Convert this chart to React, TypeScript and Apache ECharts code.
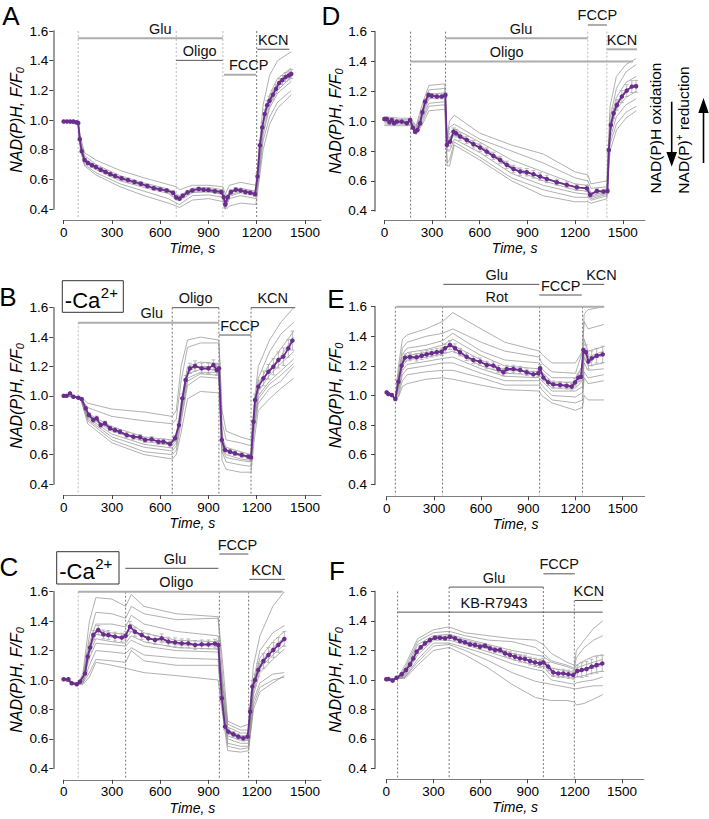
import React, { useEffect, useRef } from "react";
import * as echarts from "echarts";

const FONT = "'Liberation Sans', Arial, Helvetica, sans-serif";
const PURPLE = "#6a2c8f";

const X_TICKS = [0, 300, 600, 900, 1200, 1500];

// ---------------- Panel A ----------------
const timesA = [0, 90, 105, 130, 200, 350, 500, 650, 700, 720, 800, 900, 990, 1005, 1030, 1100, 1195, 1210, 1240, 1280, 1330, 1415];
const tracesA = [
  [0.99, 0.99, 0.88, 0.78, 0.73, 0.66, 0.61, 0.565, 0.55, 0.53, 0.56, 0.56, 0.55, 0.5, 0.56, 0.58, 0.56, 0.75, 1.1, 1.3, 1.4, 1.46],
  [0.99, 0.98, 0.86, 0.76, 0.7, 0.625, 0.575, 0.535, 0.5, 0.49, 0.54, 0.545, 0.53, 0.45, 0.52, 0.54, 0.52, 0.7, 1.0, 1.17, 1.28, 1.35],
  [0.99, 0.98, 0.84, 0.74, 0.69, 0.61, 0.565, 0.525, 0.485, 0.475, 0.53, 0.535, 0.52, 0.44, 0.51, 0.53, 0.51, 0.66, 0.97, 1.14, 1.25, 1.33],
  [0.99, 0.98, 0.83, 0.73, 0.675, 0.6, 0.555, 0.515, 0.47, 0.465, 0.52, 0.52, 0.505, 0.42, 0.495, 0.52, 0.5, 0.63, 0.93, 1.1, 1.2, 1.29],
  [0.99, 0.98, 0.82, 0.72, 0.665, 0.59, 0.545, 0.505, 0.465, 0.455, 0.51, 0.515, 0.5, 0.41, 0.485, 0.51, 0.49, 0.6, 0.9, 1.08, 1.18, 1.26],
  [0.99, 0.97, 0.8, 0.7, 0.645, 0.57, 0.52, 0.47, 0.44, 0.43, 0.49, 0.495, 0.48, 0.4, 0.47, 0.49, 0.47, 0.58, 0.86, 1.02, 1.12, 1.2],
  [0.99, 0.97, 0.79, 0.69, 0.63, 0.55, 0.49, 0.44, 0.42, 0.41, 0.46, 0.47, 0.45, 0.39, 0.42, 0.44, 0.43, 0.55, 0.8, 0.97, 1.08, 1.17],
];
// [time, mean, sem]
const meanA = [
  [0, 0.99, 0.005], [20, 0.99, 0.005], [40, 0.99, 0.005], [60, 0.99, 0.005], [80, 0.985, 0.005], [90, 0.98, 0.005],
  [100, 0.87, 0.01], [112, 0.79, 0.012], [130, 0.73, 0.012], [150, 0.71, 0.012], [175, 0.695, 0.012], [200, 0.683, 0.012],
  [230, 0.665, 0.012], [260, 0.65, 0.012], [290, 0.635, 0.012], [320, 0.622, 0.012], [360, 0.607, 0.012], [400, 0.595, 0.012],
  [440, 0.582, 0.012], [480, 0.57, 0.012], [520, 0.555, 0.012], [560, 0.54, 0.012], [600, 0.532, 0.012], [640, 0.525, 0.012],
  [680, 0.51, 0.012], [700, 0.478, 0.012], [720, 0.47, 0.012], [740, 0.49, 0.012], [770, 0.512, 0.012], [800, 0.525, 0.012],
  [840, 0.535, 0.012], [870, 0.53, 0.012], [900, 0.528, 0.012], [940, 0.52, 0.012], [980, 0.515, 0.012], [995, 0.48, 0.015],
  [1005, 0.43, 0.015], [1020, 0.48, 0.015], [1040, 0.515, 0.015], [1070, 0.53, 0.015], [1100, 0.525, 0.015], [1130, 0.515, 0.015],
  [1160, 0.51, 0.015], [1190, 0.5, 0.015], [1205, 0.62, 0.02], [1220, 0.83, 0.03], [1235, 0.95, 0.03], [1250, 1.04, 0.03],
  [1265, 1.1, 0.03], [1280, 1.13, 0.03], [1300, 1.17, 0.03], [1320, 1.21, 0.03], [1340, 1.25, 0.03], [1360, 1.27, 0.03],
  [1380, 1.29, 0.03], [1400, 1.3, 0.03], [1415, 1.31, 0.03],
];
// [start, end, level, label position]
const barsA = [[90, 990, 1.551, 600], [700, 988, 1.402, 845], [997, 1196, 1.305, 1150], [1204, 1403, 1.477, 1303]];
const barLabelsA = ["Glu", "Oligo", "FCCP", "KCN"];
const vlinesA = [[90, 1.6], [700, 1.6], [990, 1.6], [1200, 1.6]];

// ---------------- Panel D ----------------
const timesD = [0, 100, 165, 200, 240, 280, 380, 395, 410, 440, 600, 800, 1000, 1200, 1280, 1300, 1400, 1420, 1460, 1520, 1585];
const tracesD = [
  [1.03, 1.02, 1.02, 0.97, 1.12, 1.24, 1.25, 0.9, 1.0, 1.04, 0.92, 0.84, 0.78, 0.66, 0.64, 0.58, 0.6, 1.1, 1.3, 1.38, 1.42],
  [1.02, 1.01, 1.01, 0.96, 1.08, 1.21, 1.22, 0.88, 0.96, 0.98, 0.88, 0.8, 0.72, 0.62, 0.6, 0.55, 0.56, 1.02, 1.22, 1.33, 1.38],
  [1.01, 1.0, 1.0, 0.95, 1.06, 1.18, 1.19, 0.86, 0.92, 0.95, 0.86, 0.74, 0.66, 0.58, 0.57, 0.52, 0.54, 0.98, 1.16, 1.26, 1.3],
  [1.0, 1.0, 1.0, 0.94, 1.05, 1.17, 1.17, 0.84, 0.89, 0.93, 0.84, 0.7, 0.62, 0.56, 0.55, 0.5, 0.53, 0.95, 1.12, 1.21, 1.25],
  [1.0, 0.99, 0.99, 0.93, 1.04, 1.15, 1.16, 0.82, 0.86, 0.91, 0.82, 0.68, 0.6, 0.54, 0.53, 0.49, 0.52, 0.92, 1.08, 1.16, 1.2],
  [0.99, 0.99, 0.99, 0.93, 1.02, 1.12, 1.13, 0.8, 0.8, 0.88, 0.79, 0.65, 0.57, 0.52, 0.51, 0.48, 0.51, 0.88, 1.03, 1.11, 1.15],
  [0.98, 0.98, 0.98, 0.92, 1.0, 1.1, 1.11, 0.72, 0.74, 0.86, 0.76, 0.62, 0.54, 0.49, 0.49, 0.47, 0.5, 0.85, 0.98, 1.06, 1.1],
  [0.97, 0.97, 0.97, 0.91, 0.98, 1.07, 1.08, 0.7, 0.7, 0.84, 0.74, 0.6, 0.5, 0.46, 0.46, 0.45, 0.48, 0.8, 0.94, 1.02, 1.07],
];
const meanD = [
  [0, 1.015, 0.01], [15, 1.015, 0.01], [32, 0.993, 0.01], [46, 1.008, 0.01], [61, 0.986, 0.01], [78, 0.997, 0.01],
  [109, 0.997, 0.01], [141, 0.986, 0.01], [162, 1.008, 0.01], [179, 0.957, 0.01], [193, 0.93, 0.012], [208, 0.941, 0.012],
  [225, 0.986, 0.015], [239, 1.06, 0.015], [256, 1.131, 0.015], [277, 1.176, 0.015], [298, 1.171, 0.015], [330, 1.165, 0.015],
  [361, 1.165, 0.015], [384, 1.176, 0.015], [393, 0.841, 0.03], [414, 0.863, 0.03], [435, 0.93, 0.025], [451, 0.919, 0.025],
  [476, 0.897, 0.025], [518, 0.874, 0.025], [560, 0.845, 0.025], [602, 0.823, 0.025], [644, 0.796, 0.025], [686, 0.767, 0.025],
  [728, 0.74, 0.025], [770, 0.707, 0.025], [812, 0.68, 0.025], [854, 0.662, 0.025], [896, 0.658, 0.025], [938, 0.644, 0.025],
  [980, 0.629, 0.025], [1022, 0.613, 0.025], [1085, 0.591, 0.02], [1148, 0.573, 0.02], [1211, 0.557, 0.02], [1274, 0.55, 0.02],
  [1295, 0.506, 0.015], [1337, 0.532, 0.015], [1379, 0.528, 0.015], [1404, 0.532, 0.015], [1412, 0.807, 0.03], [1425, 0.975, 0.03],
  [1442, 1.053, 0.035], [1463, 1.109, 0.035], [1494, 1.165, 0.04], [1525, 1.205, 0.04], [1557, 1.232, 0.04], [1584, 1.234, 0.04],
];
const barsD = [[385, 1280, 1.556, 860], [165, 1565, 1.4, 770], [1280, 1400, 1.645, 1340], [1400, 1590, 1.482, 1495]];
const barLabelsD = ["Glu", "Oligo", "FCCP", "KCN"];
const vlinesD = [[165, 1.6], [385, 1.6], [1280, 1.6], [1400, 1.6]];

// ---------------- Panel B ----------------
const timesB = [0, 90, 110, 150, 300, 500, 675, 700, 730, 770, 850, 965, 985, 1010, 1100, 1165, 1185, 1210, 1280, 1350, 1430];
const tracesB = [
  [1.0, 0.99, 0.99, 0.95, 0.91, 0.89, 0.86, 0.9, 1.2, 1.38, 1.4, 1.38, 0.9, 0.76, 0.72, 0.7, 0.95, 1.2, 1.38, 1.5, 1.6],
  [1.0, 0.99, 0.98, 0.92, 0.86, 0.83, 0.81, 0.84, 1.1, 1.33, 1.36, 1.36, 0.82, 0.7, 0.68, 0.66, 0.9, 1.12, 1.3, 1.42, 1.5],
  [1.0, 0.99, 0.975, 0.88, 0.79, 0.72, 0.7, 0.73, 0.95, 1.2, 1.23, 1.22, 0.72, 0.65, 0.62, 0.6, 0.9, 1.08, 1.22, 1.32, 1.44],
  [1.0, 0.99, 0.975, 0.87, 0.77, 0.705, 0.68, 0.72, 0.92, 1.17, 1.2, 1.2, 0.7, 0.63, 0.6, 0.59, 0.88, 1.06, 1.18, 1.27, 1.4],
  [1.0, 0.99, 0.97, 0.86, 0.76, 0.69, 0.665, 0.7, 0.9, 1.15, 1.18, 1.18, 0.68, 0.62, 0.59, 0.58, 0.85, 1.03, 1.14, 1.22, 1.3],
  [1.0, 0.99, 0.97, 0.85, 0.74, 0.67, 0.645, 0.68, 0.88, 1.12, 1.16, 1.16, 0.66, 0.6, 0.57, 0.56, 0.82, 1.0, 1.1, 1.17, 1.25],
  [1.0, 0.99, 0.97, 0.84, 0.72, 0.65, 0.625, 0.66, 0.85, 1.1, 1.15, 1.14, 0.64, 0.58, 0.56, 0.55, 0.8, 0.98, 1.08, 1.14, 1.22],
  [1.0, 0.99, 0.965, 0.83, 0.7, 0.62, 0.6, 0.63, 0.82, 1.07, 1.13, 1.12, 0.62, 0.55, 0.53, 0.52, 0.77, 0.95, 1.05, 1.1, 1.2],
  [1.0, 0.99, 0.96, 0.81, 0.68, 0.6, 0.57, 0.6, 0.75, 0.98, 1.03, 1.02, 0.56, 0.5, 0.48, 0.48, 0.7, 0.9, 0.98, 1.05, 1.12],
];
const meanB = [
  [0, 1.0, 0.005], [18, 1.0, 0.005], [39, 1.017, 0.005], [60, 0.994, 0.005], [91, 0.987, 0.005], [112, 0.978, 0.008],
  [137, 0.915, 0.012], [157, 0.87, 0.015], [184, 0.836, 0.015], [205, 0.847, 0.015], [230, 0.801, 0.015], [257, 0.813, 0.015],
  [288, 0.779, 0.015], [319, 0.767, 0.015], [350, 0.756, 0.015], [392, 0.733, 0.018], [433, 0.722, 0.018], [475, 0.718, 0.018],
  [506, 0.7, 0.018], [547, 0.704, 0.018], [589, 0.688, 0.018], [620, 0.688, 0.018], [661, 0.672, 0.02], [692, 0.711, 0.02],
  [717, 0.801, 0.025], [738, 0.983, 0.03], [758, 1.108, 0.03], [785, 1.187, 0.035], [817, 1.203, 0.035], [858, 1.187, 0.035],
  [900, 1.187, 0.035], [931, 1.21, 0.035], [951, 1.176, 0.035], [966, 1.187, 0.035], [983, 0.7, 0.02], [1003, 0.632, 0.015],
  [1034, 0.62, 0.015], [1065, 0.609, 0.015], [1107, 0.597, 0.015], [1148, 0.586, 0.015], [1165, 0.581, 0.015], [1180, 0.824, 0.03],
  [1190, 0.972, 0.04], [1210, 1.062, 0.045], [1242, 1.119, 0.05], [1273, 1.164, 0.05], [1304, 1.198, 0.055], [1335, 1.244, 0.055],
  [1366, 1.267, 0.06], [1397, 1.323, 0.06], [1422, 1.376, 0.065],
];
const barsB = [[90, 965, 1.498, 547], [675, 965, 1.6, 820], [965, 1165, 1.414, 1096], [1165, 1440, 1.6, 1300]];
const barLabelsB = ["Glu", "Oligo", "FCCP", "KCN"];
const vlinesB = [[90, 1.5], [675, 1.6], [965, 1.6], [1165, 1.6]];

// ---------------- Panel E ----------------
const timesE = [0, 55, 75, 100, 130, 250, 355, 420, 600, 750, 970, 985, 1050, 1200, 1245, 1255, 1280, 1380];
const tracesE = [
  [1.02, 0.98, 1.2, 1.38, 1.41, 1.45, 1.5, 1.56, 1.45, 1.36, 1.3, 1.28, 1.22, 1.22, 1.3, 1.55, 1.58, 1.6],
  [1.02, 0.98, 1.15, 1.32, 1.36, 1.4, 1.42, 1.45, 1.36, 1.3, 1.26, 1.22, 1.16, 1.15, 1.3, 1.5, 1.45, 1.48],
  [1.02, 0.98, 1.13, 1.28, 1.32, 1.34, 1.37, 1.42, 1.3, 1.24, 1.22, 1.18, 1.12, 1.12, 1.2, 1.38, 1.3, 1.33],
  [1.02, 0.98, 1.1, 1.25, 1.29, 1.31, 1.34, 1.38, 1.27, 1.2, 1.18, 1.16, 1.09, 1.09, 1.15, 1.32, 1.26, 1.3],
  [1.02, 0.98, 1.08, 1.23, 1.27, 1.29, 1.31, 1.34, 1.24, 1.17, 1.16, 1.14, 1.07, 1.07, 1.12, 1.3, 1.24, 1.27],
  [1.02, 0.98, 1.06, 1.2, 1.24, 1.26, 1.28, 1.3, 1.2, 1.15, 1.14, 1.12, 1.05, 1.05, 1.1, 1.26, 1.2, 1.22],
  [1.02, 0.98, 1.04, 1.17, 1.21, 1.23, 1.25, 1.26, 1.18, 1.13, 1.12, 1.1, 1.03, 1.03, 1.06, 1.22, 1.17, 1.18],
  [1.02, 0.98, 1.02, 1.14, 1.18, 1.2, 1.22, 1.22, 1.15, 1.1, 1.1, 1.07, 1.0, 0.99, 1.02, 1.16, 1.12, 1.14],
  [1.02, 0.98, 1.0, 1.1, 1.14, 1.16, 1.17, 1.17, 1.12, 1.07, 1.07, 1.04, 0.97, 0.95, 0.97, 1.12, 1.08, 1.1],
  [1.02, 0.98, 0.99, 1.06, 1.08, 1.11, 1.12, 1.11, 1.07, 1.04, 1.03, 1.0, 0.95, 0.9, 0.92, 1.0, 0.97, 0.97],
];
const meanE = [
  [0, 1.021, 0.005], [10, 1.01, 0.005], [32, 1.003, 0.005], [55, 0.976, 0.005], [74, 1.093, 0.02], [95, 1.202, 0.025],
  [116, 1.256, 0.025], [148, 1.26, 0.025], [190, 1.258, 0.025], [222, 1.269, 0.025], [254, 1.278, 0.025], [286, 1.285, 0.025],
  [318, 1.292, 0.025], [349, 1.296, 0.025], [371, 1.319, 0.028], [402, 1.341, 0.03], [434, 1.319, 0.03], [466, 1.292, 0.025],
  [508, 1.262, 0.025], [551, 1.24, 0.025], [593, 1.229, 0.025], [636, 1.206, 0.025], [678, 1.202, 0.025], [710, 1.179, 0.025],
  [742, 1.157, 0.025], [763, 1.179, 0.025], [805, 1.179, 0.025], [848, 1.172, 0.025], [890, 1.157, 0.022], [932, 1.143, 0.022],
  [964, 1.15, 0.022], [975, 1.184, 0.025], [996, 1.121, 0.022], [1027, 1.089, 0.022], [1059, 1.075, 0.022], [1102, 1.071, 0.022],
  [1144, 1.066, 0.022], [1176, 1.06, 0.022], [1197, 1.089, 0.025], [1218, 1.121, 0.025], [1235, 1.127, 0.03], [1250, 1.307, 0.04],
  [1267, 1.292, 0.05], [1282, 1.229, 0.05], [1303, 1.251, 0.05], [1335, 1.269, 0.05], [1373, 1.278, 0.055],
];
const barsE = [[360, 970, 1.751, 700], [60, 1383, 1.6, 700], [970, 1240, 1.679, 1106], [1244, 1383, 1.751, 1365]];
const barLabelsE = ["Glu", "Rot", "FCCP", "KCN"];
const vlinesE = [[55, 1.6], [355, 1.6], [972, 1.6], [1245, 1.6]];

// ---------------- Panel C ----------------
const timesC = [0, 90, 120, 160, 200, 300, 385, 420, 500, 700, 960, 990, 1020, 1100, 1150, 1180, 1220, 1300, 1372];
const tracesC = [
  [1.0, 0.97, 1.05, 1.4, 1.56, 1.55, 1.5, 1.58, 1.5, 1.45, 1.43, 1.1, 0.72, 0.68, 0.7, 1.1, 1.3, 1.5, 1.6],
  [1.0, 0.97, 1.03, 1.3, 1.46, 1.45, 1.42, 1.5, 1.45, 1.41, 1.42, 1.0, 0.7, 0.66, 0.66, 1.0, 1.2, 1.32, 1.37],
  [1.0, 0.97, 1.02, 1.25, 1.38, 1.38, 1.36, 1.44, 1.38, 1.33, 1.3, 0.95, 0.68, 0.64, 0.64, 0.98, 1.15, 1.26, 1.33],
  [1.0, 0.97, 1.01, 1.22, 1.34, 1.32, 1.31, 1.38, 1.32, 1.27, 1.26, 0.92, 0.66, 0.62, 0.62, 0.96, 1.12, 1.22, 1.29],
  [1.0, 0.97, 1.0, 1.2, 1.31, 1.29, 1.28, 1.33, 1.29, 1.24, 1.23, 0.9, 0.64, 0.6, 0.6, 0.95, 1.1, 1.2, 1.27],
  [1.0, 0.97, 0.99, 1.18, 1.28, 1.26, 1.25, 1.3, 1.26, 1.22, 1.21, 0.88, 0.62, 0.59, 0.59, 0.93, 1.08, 1.17, 1.24],
  [1.0, 0.97, 0.99, 1.15, 1.25, 1.24, 1.23, 1.27, 1.23, 1.2, 1.19, 0.86, 0.6, 0.57, 0.57, 0.9, 1.05, 1.14, 1.21],
  [1.0, 0.97, 0.98, 1.1, 1.2, 1.19, 1.18, 1.22, 1.17, 1.15, 1.14, 0.82, 0.57, 0.55, 0.55, 0.86, 0.98, 1.04, 1.05],
  [1.0, 0.97, 0.98, 1.05, 1.14, 1.13, 1.12, 1.2, 1.13, 1.1, 1.1, 0.8, 0.55, 0.53, 0.54, 0.83, 0.95, 1.0, 1.02],
  [1.0, 0.97, 0.97, 1.02, 1.12, 1.1, 1.08, 1.07, 1.05, 1.03, 1.0, 0.75, 0.52, 0.51, 0.52, 0.8, 0.92, 0.98, 1.03],
];
const meanC = [
  [0, 1.005, 0.005], [29, 1.005, 0.005], [50, 0.978, 0.005], [81, 0.971, 0.005], [101, 0.989, 0.008], [133, 1.045, 0.015],
  [149, 1.159, 0.02], [164, 1.22, 0.025], [184, 1.306, 0.03], [215, 1.34, 0.03], [247, 1.31, 0.03], [278, 1.306, 0.03],
  [319, 1.295, 0.03], [361, 1.288, 0.03], [385, 1.301, 0.03], [412, 1.363, 0.035], [443, 1.328, 0.03], [485, 1.306, 0.03],
  [526, 1.283, 0.03], [568, 1.272, 0.03], [609, 1.283, 0.03], [651, 1.261, 0.03], [692, 1.256, 0.03], [734, 1.249, 0.03],
  [775, 1.249, 0.03], [817, 1.238, 0.03], [858, 1.242, 0.03], [900, 1.242, 0.03], [941, 1.247, 0.03], [962, 1.238, 0.03],
  [983, 0.876, 0.03], [1003, 0.683, 0.02], [1024, 0.649, 0.02], [1055, 0.631, 0.018], [1086, 0.615, 0.018], [1117, 0.604, 0.018],
  [1144, 0.615, 0.018], [1159, 0.785, 0.03], [1173, 0.955, 0.04], [1190, 1.0, 0.04], [1210, 1.068, 0.045], [1242, 1.129, 0.05],
  [1273, 1.17, 0.05], [1304, 1.204, 0.05], [1335, 1.238, 0.05], [1372, 1.279, 0.05],
];
const barsC = [[383, 962, 1.759, 692], [90, 1362, 1.6, 700], [968, 1148, 1.856, 1080], [1154, 1376, 1.684, 1262]];
const barLabelsC = ["Glu", "Oligo", "FCCP", "KCN"];
const vlinesC = [[90, 1.6], [385, 1.6], [968, 1.6], [1150, 1.6]];

// ---------------- Panel F ----------------
const timesF = [0, 72, 120, 200, 300, 400, 500, 650, 800, 950, 1000, 1050, 1150, 1197, 1210, 1260, 1320, 1378];
const tracesF = [
  [1.0, 1.01, 1.1, 1.28, 1.34, 1.36, 1.32, 1.3, 1.28, 1.27, 1.24, 1.18, 1.12, 1.1, 1.2, 1.27, 1.35, 1.4],
  [1.0, 1.01, 1.08, 1.26, 1.32, 1.33, 1.3, 1.27, 1.26, 1.22, 1.18, 1.13, 1.1, 1.08, 1.15, 1.22, 1.27, 1.3],
  [1.0, 1.01, 1.06, 1.24, 1.3, 1.31, 1.28, 1.24, 1.2, 1.17, 1.16, 1.12, 1.09, 1.07, 1.1, 1.13, 1.16, 1.17],
  [1.0, 1.01, 1.05, 1.21, 1.29, 1.3, 1.27, 1.23, 1.18, 1.14, 1.13, 1.08, 1.06, 1.05, 1.08, 1.1, 1.12, 1.14],
  [1.0, 1.01, 1.04, 1.19, 1.28, 1.29, 1.26, 1.21, 1.16, 1.12, 1.11, 1.05, 1.04, 1.03, 1.05, 1.07, 1.08, 1.1],
  [1.0, 1.01, 1.03, 1.17, 1.27, 1.27, 1.24, 1.19, 1.14, 1.1, 1.09, 1.03, 1.02, 1.01, 1.02, 1.03, 1.05, 1.06],
  [1.0, 1.01, 1.02, 1.14, 1.25, 1.25, 1.22, 1.17, 1.11, 1.07, 1.06, 1.0, 0.98, 0.97, 0.98, 0.99, 1.0, 1.02],
  [1.0, 1.01, 1.02, 1.12, 1.23, 1.24, 1.2, 1.13, 1.05, 0.99, 0.98, 0.97, 0.95, 0.94, 0.94, 0.95, 0.96, 0.96],
  [1.0, 1.01, 1.01, 1.1, 1.2, 1.22, 1.17, 1.08, 0.97, 0.88, 0.87, 0.86, 0.86, 0.85, 0.83, 0.84, 0.87, 0.9],
];
const meanF = [
  [0, 1.004, 0.005], [13, 1.006, 0.005], [40, 0.995, 0.005], [66, 1.015, 0.005], [98, 1.038, 0.008], [125, 1.067, 0.01],
  [151, 1.105, 0.012], [172, 1.146, 0.012], [193, 1.191, 0.012], [219, 1.221, 0.012], [246, 1.248, 0.012], [278, 1.27, 0.012],
  [310, 1.286, 0.012], [342, 1.286, 0.012], [374, 1.282, 0.012], [405, 1.293, 0.012], [437, 1.282, 0.012], [469, 1.264, 0.012],
  [501, 1.255, 0.012], [533, 1.241, 0.013], [565, 1.237, 0.014], [596, 1.225, 0.015], [628, 1.232, 0.016], [660, 1.214, 0.017],
  [692, 1.203, 0.018], [724, 1.203, 0.019], [756, 1.18, 0.02], [787, 1.169, 0.022], [819, 1.157, 0.024], [851, 1.146, 0.025],
  [883, 1.142, 0.026], [915, 1.128, 0.027], [947, 1.119, 0.028], [978, 1.112, 0.028], [1000, 1.119, 0.028], [1031, 1.09, 0.028],
  [1063, 1.051, 0.028], [1095, 1.044, 0.028], [1127, 1.044, 0.028], [1159, 1.038, 0.028], [1190, 1.033, 0.028], [1216, 1.06, 0.04],
  [1244, 1.067, 0.05], [1275, 1.074, 0.05], [1307, 1.09, 0.05], [1339, 1.101, 0.055], [1375, 1.112, 0.055],
];
const barsF = [[400, 1000, 1.63, 686], [72, 1378, 1.46, 686], [1000, 1200, 1.72, 1101], [1200, 1378, 1.539, 1290]];
const barLabelsF = ["Glu", "KB-R7943", "FCCP", "KCN"];
const vlinesF = [[72, 1.6], [400, 1.63], [1000, 1.63], [1197, 1.539]];

// ---------------- layout / styles ----------------
const panels: any[] = [
  { id: "A", times: timesA, traces: tracesA, mean: meanA, bars: barsA, labels: barLabelsA, vlines: vlinesA,
    lightBars: ["Glu", "FCCP"], lightV: [0, 1, 2],
    grid: { left: 63.7, top: 31, width: 257.3, height: 178 }, xMax: 1600, xOff: 11, yOff: 10.4, yMargin: 5 },
  { id: "D", times: timesD, traces: tracesD, mean: meanD, bars: barsD, labels: barLabelsD, vlines: vlinesD,
    lightBars: ["Glu", "Oligo", "FCCP", "KCN"], lightV: [2, 3],
    grid: { left: 384.4, top: 31.7, width: 260.6, height: 179 }, xMax: 1640, xOff: 9.5, yOff: 9.4, yMargin: 8 },
  { id: "B", times: timesB, traces: tracesB, mean: meanB, bars: barsB, labels: barLabelsB, vlines: vlinesB,
    lightBars: ["Glu"], lightV: [0],
    grid: { left: 63.7, top: 307.7, width: 257.3, height: 176.3 }, xMax: 1600, xOff: 11, yOff: 10.4, yMargin: 5 },
  { id: "E", times: timesE, traces: tracesE, mean: meanE, bars: barsE, labels: barLabelsE, vlines: vlinesE,
    lightBars: ["Rot"], lightV: [],
    grid: { left: 386.7, top: 306.7, width: 258, height: 177.6 }, xMax: 1640, xOff: 12, yOff: 11.7, yMargin: 8 },
  { id: "C", times: timesC, traces: tracesC, mean: meanC, bars: barsC, labels: barLabelsC, vlines: vlinesC,
    lightBars: ["Oligo"], lightV: [0],
    grid: { left: 63.7, top: 591.7, width: 257.3, height: 176.6 }, xMax: 1600, xOff: 11.5, yOff: 10.4, yMargin: 5 },
  { id: "F", times: timesF, traces: tracesF, mean: meanF, bars: barsF, labels: barLabelsF, vlines: vlinesF,
    lightBars: [], lightV: [],
    grid: { left: 386.3, top: 591.5, width: 257.6, height: 176.8 }, xMax: 1640, xOff: 11, yOff: 11.3, yMargin: 8 },
];

function txt(style: any) {
  const s: any = { fill: "#000", ...style };
  if (s.align) s.textAlign = s.align;
  if (s.verticalAlign) s.textVerticalAlign = s.verticalAlign;
  return s;
}

function buildOption() {
  const grid = panels.map((p) => ({ ...p.grid, containLabel: false, outerBoundsMode: "none" }));
  const xAxis = panels.map((p, i) => ({
    type: "value", gridIndex: i, min: 0, max: p.xMax, interval: 300, offset: p.xOff,
    axisLine: { show: true, onZero: false, lineStyle: { color: "#7d7d7d", width: 1 } },
    axisTick: { show: true, length: 4, lineStyle: { color: "#444", width: 1 }, customValues: X_TICKS },
    axisLabel: { customValues: X_TICKS, formatter: (v: number) => String(Math.round(v)),
      fontSize: 13.5, color: "#000", margin: 5, fontFamily: FONT },
    splitLine: { show: false },
    name: "Time, s", nameLocation: "middle", nameGap: 21,
    nameTextStyle: { fontStyle: "italic", fontSize: 14, color: "#000", fontFamily: FONT },
  }));
  const yAxis = panels.map((p, i) => ({
    type: "value", gridIndex: i, min: 0.4, max: 1.6, interval: 0.2, offset: p.yOff,
    axisLine: { show: true, onZero: false, lineStyle: { color: "#9c9c9c", width: 2 } },
    axisTick: { show: true, length: 4, lineStyle: { color: "#444", width: 1 } },
    axisLabel: { formatter: (v: number) => v.toFixed(1), fontSize: 13.5, color: "#000", margin: p.yMargin, fontFamily: FONT },
    splitLine: { show: false },
    name: "{i|NAD(P)H, F/F}{s|0}", nameLocation: "middle", nameGap: 27, nameRotate: 90,
    nameTextStyle: {
      color: "#000",
      rich: {
        i: { fontStyle: "italic", fontSize: 16, fontFamily: FONT, color: "#000", lineHeight: 18 },
        s: { fontStyle: "italic", fontSize: 11, fontFamily: FONT, color: "#000", lineHeight: 12, verticalAlign: "bottom" },
      },
    },
  }));

  const series: any[] = [];
  panels.forEach((p, i) => {
    p.traces.forEach((tr: number[]) => {
      series.push({
        type: "line", xAxisIndex: i, yAxisIndex: i, silent: true, symbol: "none", z: 2,
        lineStyle: { color: "#8e8e8e", width: 0.7 },
        data: p.times.map((t: number, j: number) => [t, tr[j]]),
      });
    });
    series.push({
      type: "custom", xAxisIndex: i, yAxisIndex: i, silent: true, clip: false, z: 1,
      encode: { x: 0, y: 1 },
      data: p.vlines,
      renderItem: (params: any, api: any) => {
        const a = api.coord([api.value(0), api.value(1)]);
        const b = api.coord([api.value(0), 0.4]);
        const light = p.lightV.includes(params.dataIndex);
        return {
          type: "line",
          shape: { x1: a[0], y1: a[1], x2: a[0], y2: b[1] + p.xOff - 1 },
          style: { stroke: light ? "#a8a8a8" : "#555", lineWidth: 0.8, lineDash: [2, 2] },
        };
      },
    });
    series.push({
      type: "custom", xAxisIndex: i, yAxisIndex: i, silent: true, clip: false, z: 3,
      encode: { x: [0, 1, 3], y: 2 },
      data: p.bars,
      renderItem: (params: any, api: any) => {
        const a = api.coord([api.value(0), api.value(2)]);
        const b = api.coord([api.value(1), api.value(2)]);
        const l = api.coord([api.value(3), api.value(2)]);
        const name = p.labels[params.dataIndex];
        const light = p.lightBars.includes(name);
        return {
          type: "group",
          children: [
            { type: "line", shape: { x1: a[0], y1: a[1], x2: b[0], y2: b[1] },
              style: { stroke: light ? "#adadad" : "#555", lineWidth: light ? 2 : 1 } },
            { type: "text", x: l[0], y: a[1] - 2,
              style: txt({ text: name, font: `14.5px ${FONT}`, fill: "#111", align: "center", verticalAlign: "bottom" }) },
          ],
        };
      },
    });
    series.push({
      type: "custom", xAxisIndex: i, yAxisIndex: i, silent: true, clip: false, z: 4,
      encode: { x: 0, y: [1, 2] },
      data: p.mean.map((m: number[]) => [m[0], m[1] - m[2], m[1] + m[2]]),
      renderItem: (params: any, api: any) => {
        const lo = api.coord([api.value(0), api.value(1)]);
        const hi = api.coord([api.value(0), api.value(2)]);
        const st = { stroke: "#a9a9a9", lineWidth: 0.8 };
        return {
          type: "group",
          children: [
            { type: "line", shape: { x1: lo[0], y1: lo[1], x2: hi[0], y2: hi[1] }, style: st },
            { type: "line", shape: { x1: lo[0] - 2, y1: lo[1], x2: lo[0] + 2, y2: lo[1] }, style: st },
            { type: "line", shape: { x1: hi[0] - 2, y1: hi[1], x2: hi[0] + 2, y2: hi[1] }, style: st },
          ],
        };
      },
    });
    series.push({
      type: "line", xAxisIndex: i, yAxisIndex: i, silent: true, z: 5,
      symbol: "circle", symbolSize: 4.5, showSymbol: true, showAllSymbol: true,
      lineStyle: { color: PURPLE, width: 1.8 }, itemStyle: { color: PURPLE },
      data: p.mean.map((m: number[]) => [m[0], m[1]]),
    });
  });

  const letter = (t: string, x: number, y: number) => ({
    type: "text", x, y, style: txt({ text: t, font: `26px ${FONT}`, align: "center", verticalAlign: "middle" }),
  });
  const caBox = (x: number, y: number, w: number, h: number) => [
    { type: "rect", shape: { x, y, width: w, height: h }, style: { fill: "#fff", stroke: "#333", lineWidth: 1 } },
    { type: "text", x: x + 2.5, y: y + h / 2 + 4, style: txt({ text: "-Ca", font: `22px ${FONT}`, align: "left", verticalAlign: "middle" }) },
    { type: "text", x: x + 38.5, y: y + 11.5, style: txt({ text: "2+", font: `15px ${FONT}`, align: "left", verticalAlign: "middle" }) },
  ];

  const graphic: any[] = [
    letter("A", 11, 16), letter("D", 331, 16), letter("B", 8, 297),
    letter("E", 336, 299), letter("C", 9, 567), letter("F", 337, 571),
    ...caBox(62.3, 280.7, 61, 31.6),
    ...caBox(56.7, 551.7, 62.3, 32.3),
    { type: "text", x: 655, y: 128, rotation: Math.PI / 2,
      style: txt({ text: "NAD(P)H oxidation", font: `15.5px ${FONT}`, align: "center", verticalAlign: "middle" }) },
    { type: "text", x: 683, y: 130, rotation: Math.PI / 2,
      style: txt({
        text: "{a|NAD(P)}{s|+}{a| reduction}", align: "center", verticalAlign: "middle",
        rich: {
          a: { fontSize: 15.5, fontFamily: FONT, fill: "#000", lineHeight: 18 },
          s: { fontSize: 10, fontFamily: FONT, fill: "#000", lineHeight: 10, verticalAlign: "top" },
        },
      }) },
    { type: "line", shape: { x1: 671.7, y1: 101.7, x2: 671.7, y2: 153 }, style: { stroke: "#000", lineWidth: 1.6 } },
    { type: "polygon", shape: { points: [[666.4, 152], [677, 152], [671.7, 166.7]] }, style: { fill: "#000" } },
    { type: "line", shape: { x1: 703.5, y1: 112, x2: 703.5, y2: 163 }, style: { stroke: "#000", lineWidth: 1.6 } },
    { type: "polygon", shape: { points: [[698.3, 113], [708.7, 113], [703.5, 98]] }, style: { fill: "#000" } },
  ];

  return {
    animation: false,
    backgroundColor: "#fff",
    textStyle: { fontFamily: FONT },
    grid, xAxis, yAxis, series, graphic,
  };
}

export default function App() {
  const ref = useRef<HTMLDivElement>(null);
  useEffect(() => {
    if (!ref.current) return;
    const chart = echarts.init(ref.current, undefined, { renderer: "svg" });
    chart.setOption(buildOption() as any);
    return () => chart.dispose();
  }, []);
  return (
    <div
      ref={ref}
      style={{ position: "absolute", left: 0, top: 0, width: 709, height: 819, background: "#fff" }}
    />
  );
}
